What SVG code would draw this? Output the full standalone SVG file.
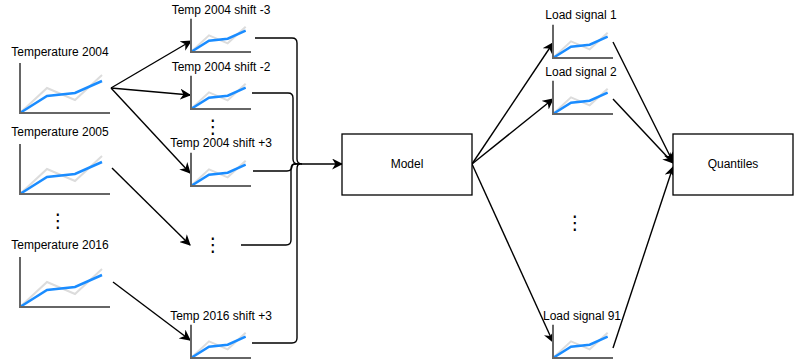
<svg xmlns="http://www.w3.org/2000/svg" xmlns:xlink="http://www.w3.org/1999/xlink" width="795" height="360" viewBox="0 0 795 360">
<style>
text{font-family:"Liberation Sans",Arial,sans-serif;font-size:12px;fill:#000;text-anchor:middle}
.dots{font-family:"DejaVu Sans",sans-serif;font-size:19px}
.ax{fill:none;stroke:#666;stroke-width:2;vector-effect:non-scaling-stroke}
.gr{fill:none;stroke:#dcdcdc;stroke-width:2;vector-effect:non-scaling-stroke}
.bl{fill:none;stroke:#1a8cff;stroke-width:2.5;vector-effect:non-scaling-stroke}
.box{fill:#fff;stroke:#000;stroke-width:1.3}
.e{fill:none;stroke:#000;stroke-width:1.4}
.ea{fill:none;stroke:#000;stroke-width:1.4;marker-end:url(#arr)}
</style>
<defs>
<marker id="arr" viewBox="0 0 10 10" refX="9" refY="5" markerWidth="11" markerHeight="11" markerUnits="userSpaceOnUse" orient="auto">
<path d="M0,0 L10,5 L0,10 L3,5 Z" fill="#000"/>
</marker>
<g id="chart">
<path class="gr" d="M0,0 L27,-25 L55,-13 L82,-38"/>
<path class="bl" d="M0,0 L27,-17 L55,-20 L82,-32"/>
<path class="ax" d="M0,-50 L0,0 L90,0"/>
</g>
</defs>

<g id="connectors">
<path class="ea" d="M111,88 L191,41"/>
<path class="ea" d="M111,88 L190,95"/>
<path class="ea" d="M111,88 L190,173"/>
<path class="ea" d="M112,168 L190,245"/>
<path class="ea" d="M113,282 L190,340"/>
<path class="e" d="M255,38 L292,38 Q297,38 297,43 L297,159 Q297,164 302,164"/>
<path class="e" d="M252,93 L288,93 Q293,93 293,98 L293,159 Q293,164 298,164"/>
<path class="e" d="M253,171 L287,171 Q292,171 292,166 Q292,164 295,164"/>
<path class="e" d="M241,245 L286,245 Q291,245 291,240 L291,169 Q291,164 296,164"/>
<path class="e" d="M252,343 L292,343 Q297,343 297,338 L297,169 Q297,164 300,164"/>
<path class="ea" d="M295,164 L342,164"/>
<path class="ea" d="M472,164 L553,43"/>
<path class="ea" d="M472,164 L553,99"/>
<path class="ea" d="M472,164 L553,342"/>
<path class="ea" d="M613,42 L673,162"/>
<path class="ea" d="M613,99 L673,163"/>
<path class="ea" d="M613,348 L673,167"/>
</g>

<g id="temp2004"><text x="60" y="56">Temperature 2004</text><use xlink:href="#chart" transform="translate(20,113)"/></g>
<g id="temp2005"><text x="60" y="136">Temperature 2005</text><use xlink:href="#chart" transform="translate(20,194)"/></g>
<g id="dots1"><text class="dots" x="58" y="227">⋮</text></g>
<g id="temp2016"><text x="60" y="249">Temperature 2016</text><use xlink:href="#chart" transform="translate(20,307)"/></g>

<g id="shift-3"><text x="221" y="14">Temp 2004 shift -3</text><use xlink:href="#chart" transform="translate(191,52) scale(0.6667)"/></g>
<g id="shift-2"><text x="221" y="71">Temp 2004 shift -2</text><use xlink:href="#chart" transform="translate(191,109) scale(0.6667)"/></g>
<g id="dots2"><text class="dots" x="213" y="133">⋮</text></g>
<g id="shift+3"><text x="221" y="147">Temp 2004 shift +3</text><use xlink:href="#chart" transform="translate(191,186) scale(0.6667)"/></g>
<g id="dots3"><text class="dots" x="213" y="251">⋮</text></g>
<g id="shift2016"><text x="221" y="320">Temp 2016 shift +3</text><use xlink:href="#chart" transform="translate(191,358) scale(0.6667)"/></g>

<g id="model"><rect class="box" x="342" y="134" width="130" height="61"/><text x="407" y="168">Model</text></g>

<g id="load1"><text x="581" y="19">Load signal 1</text><use xlink:href="#chart" transform="translate(553,58) scale(0.6667)"/></g>
<g id="load2"><text x="581" y="76">Load signal 2</text><use xlink:href="#chart" transform="translate(553,114) scale(0.6667)"/></g>
<g id="dots4"><text class="dots" x="575" y="229">⋮</text></g>
<g id="load91"><text x="582" y="320">Load signal 91</text><use xlink:href="#chart" transform="translate(553,358) scale(0.6667)"/></g>

<g id="quantiles"><rect class="box" x="673" y="134" width="120" height="61"/><text x="733" y="168">Quantiles</text></g>
</svg>
